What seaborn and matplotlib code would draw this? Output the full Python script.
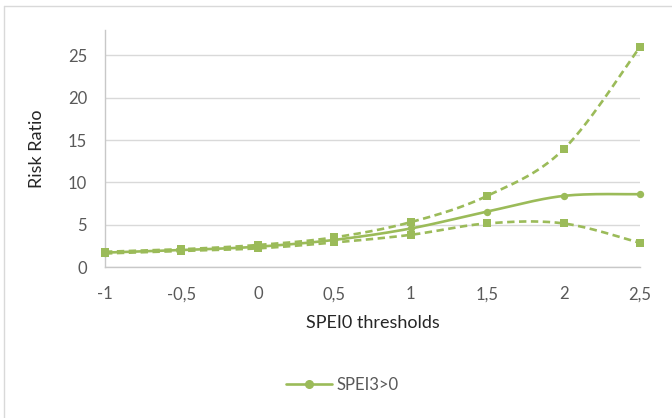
import numpy as np
import pandas as pd
import seaborn as sns
import matplotlib
matplotlib.use("Agg")
import matplotlib.pyplot as plt
from matplotlib.lines import Line2D

thresholds = [-1, -0.5, 0, 0.5, 1, 1.5, 2, 2.5]
tick_labels = ["-1", "-0,5", "0", "0,5", "1", "1,5", "2", "2,5"]
rr_main = [1.7, 2.0, 2.4, 3.2, 4.55, 6.55, 8.4, 8.6]
rr_upper = [1.8, 2.1, 2.6, 3.5, 5.3, 8.4, 13.9, 26.0]
rr_lower = [1.6, 1.9, 2.2, 2.9, 3.8, 5.15, 5.15, 2.85]
series_name = "SPEI3>0"

GREEN = "#9BBB59"
TEXT = "#595959"

sns.set_theme(style="white")
plt.rcParams['font.family'] = ['Lato', 'DejaVu Sans']


def smooth(x, y, n=30):
    # Excel-like smoothed line (Catmull-Rom bezier)
    x = np.asarray(x, float); y = np.asarray(y, float)
    px, py = [], []
    for i in range(len(x) - 1):
        x0, y0 = (x[i-1], y[i-1]) if i > 0 else (x[i], y[i])
        x3, y3 = (x[i+2], y[i+2]) if i + 2 < len(x) else (x[i+1], y[i+1])
        x1, y1 = x[i], y[i]
        x2, y2 = x[i+1], y[i+1]
        c1x, c1y = x1 + (x2 - x0) / 6, y1 + (y2 - y0) / 6
        c2x, c2y = x2 - (x3 - x1) / 6, y2 - (y3 - y1) / 6
        t = np.linspace(0, 1, n, endpoint=(i == len(x) - 2))
        bx = (1-t)**3*x1 + 3*(1-t)**2*t*c1x + 3*(1-t)*t**2*c2x + t**3*x2
        by = (1-t)**3*y1 + 3*(1-t)**2*t*c1y + 3*(1-t)*t**2*c2y + t**3*y2
        px.extend(bx); py.extend(by)
    return np.array(px), np.array(py)


W, H = 672, 418
fig = plt.figure(figsize=(W / 100, H / 100), dpi=100)
# chart-area border (top and left visible; image cropped on right/bottom)
fig.add_artist(Line2D([3.5 / W, 1], [1 - 5.5 / H, 1 - 5.5 / H], transform=fig.transFigure,
                      color="#D9D9D9", linewidth=1))
fig.add_artist(Line2D([3.5 / W, 3.5 / W], [0, 1 - 5.5 / H], transform=fig.transFigure,
                      color="#D9D9D9", linewidth=1))

ax = fig.add_axes([105 / W, 1 - 267 / H, (640 - 105) / W, (267 - 30) / H])

for ys, dashed, marker in [(rr_upper, True, "s"), (rr_lower, True, "s"), (rr_main, False, "o")]:
    sx, sy = smooth(thresholds, ys)
    d = pd.DataFrame({"x": sx, "y": sy})
    sns.lineplot(data=d, x="x", y="y", ax=ax, color=GREEN, linewidth=1.9,
                 linestyle=(0, (2.8, 1.7)) if dashed else "-", sort=False, zorder=3)
    dp = pd.DataFrame({"x": thresholds, "y": ys})
    sns.scatterplot(data=dp, x="x", y="y", ax=ax, color=GREEN, marker=marker,
                    s=34 if marker == "s" else 28, edgecolor=GREEN, linewidth=0, zorder=4,
                    clip_on=False)

ax.set_xlim(-1, 2.5)
ax.set_ylim(0, 28)
ax.set_yticks([0, 5, 10, 15, 20, 25])
ax.set_xticks(thresholds)
ax.set_xticklabels(tick_labels)
ax.grid(axis="y", color="#D9D9D9", linewidth=1)
ax.set_axisbelow(True)
for s in ["top", "right"]:
    ax.spines[s].set_visible(False)
for s in ["left", "bottom"]:
    ax.spines[s].set_color("#C8C8C8")
    ax.spines[s].set_linewidth(1)
ax.tick_params(axis="both", length=0, labelsize=12, labelcolor=TEXT)
ax.tick_params(axis="x", pad=14)
ax.tick_params(axis="y", pad=13)
ax.set_xlabel("SPEI0 thresholds", fontsize=13, color="#262626", labelpad=9)
ax.set_ylabel("Risk Ratio", fontsize=13, color="#262626", labelpad=16)

handle = Line2D([0], [0], color=GREEN, linewidth=1.9, marker="o", markersize=5.5)
fig.legend([handle], [series_name], loc="center", bbox_to_anchor=(342 / W, 1 - 385 / H),
           frameon=False, fontsize=12, labelcolor=TEXT, handlelength=2.8, handletextpad=0.25)

fig.savefig("out.png", dpi=100)
